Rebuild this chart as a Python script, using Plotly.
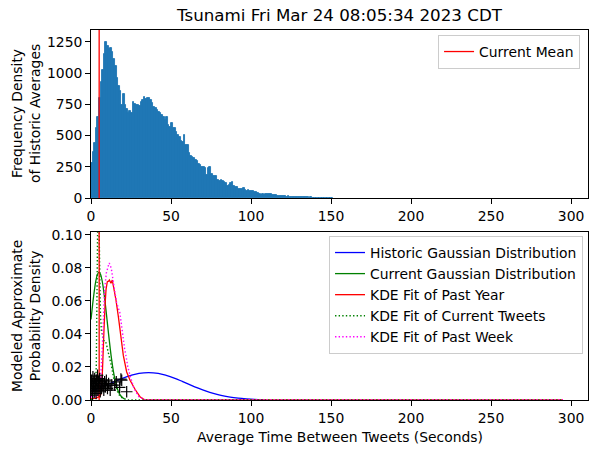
import plotly.graph_objects as go

# ---------------- data ----------------
title_text = "Tsunami Fri Mar 24 08:05:34 2023 CDT"

# histogram of historic averages: bin width 1 s, bins starting at 0
hist_bin_start = 0
hist_bin_width = 1
hist_counts = [280, 372, 440, 560, 650, 800, 930, 1024, 1150, 1245,
               1220, 1190, 1200, 1165, 1110, 1060, 958, 900, 860, 745,
               830, 745, 710, 678, 700, 680, 771, 750, 745, 745,
               735, 770, 785, 811, 795, 800, 800, 785, 760, 731,
               720, 705, 690, 678, 665, 650, 625, 650, 585, 572,
               600, 558, 558, 532, 505, 492, 460, 445, 505, 425,
               425, 360, 335, 332, 318, 305, 295, 275, 266, 250,
               245, 240, 186, 240, 245, 190, 173, 178, 180, 146,
               133, 146, 133, 128, 120, 93, 106, 120, 128, 100,
               88, 85, 72, 72, 70, 80, 62, 59, 62, 53,
               53, 60, 45, 45, 40, 35, 27, 35, 27, 35,
               35, 35, 35, 22, 22, 27, 19, 19, 19, 13,
               13, 13, 11, 13, 10, 10, 8, 8, 8, 8,
               6, 6, 5, 5, 5, 5, 4, 5, 4, 3,
               4, 3, 3, 3, 2, 2, 2, 1, 1, 1, 1]

current_mean = 5.1

hist_gauss_x = [0, 5, 10, 15, 20, 25, 30, 36, 42, 47, 52, 57, 62, 67, 72, 77, 82, 87, 92, 97, 102, 108]
hist_gauss_y = [0.0054, 0.0072, 0.0092, 0.0113, 0.0133, 0.0149, 0.0161, 0.0166, 0.0161, 0.0149, 0.0133,
                0.0113, 0.0092, 0.0072, 0.0054, 0.0039, 0.0026, 0.0017, 0.0011, 0.0007, 0.0004, 0.0002]

cur_gauss_x = [0, 1, 2, 3, 4, 5, 6, 7, 8, 9, 10, 11, 12, 13, 14, 15, 16, 17, 18, 19, 20, 21]
cur_gauss_y = [0.0488, 0.0577, 0.0656, 0.0720, 0.0761, 0.0775, 0.0761, 0.0720, 0.0656, 0.0577, 0.0488,
               0.0398, 0.0313, 0.0237, 0.0173, 0.0122, 0.0083, 0.0054, 0.0034, 0.0021, 0.0012, 0.0007]

kde_year_x = [0, 3, 5, 6, 6.7, 7.4, 8.1, 8.8, 9.4, 10.2, 11.0, 11.5, 12.5, 13.3, 14.4, 15.6,
              17.1, 18.5, 20.2, 22.3, 24.4, 27.5, 30.6, 33.7, 295]
kde_year_y = [0.001, 0.001, 0.002, 0.003, 0.006, 0.020, 0.042, 0.058, 0.067, 0.0717, 0.072, 0.0727,
              0.0707, 0.0727, 0.0677, 0.0606, 0.0505, 0.040, 0.027, 0.017, 0.012, 0.0065, 0.002, 0.0, 0.0]

kde_current_x = [0, 2.5, 3.3, 3.8, 4.2, 4.8, 5.4, 5.9, 6.5, 7.2, 8.0, 8.8, 9.6, 10.5, 11.5, 12.7,
                 14.0, 15.5, 16.9, 18.5, 20, 23, 295]
kde_current_y = [0.0, 0.002, 0.020, 0.070, 0.110, 0.120, 0.080, 0.052, 0.042, 0.038, 0.036, 0.036,
                 0.034, 0.030, 0.026, 0.021, 0.014, 0.008, 0.004, 0.002, 0.001, 0.0, 0.0]

kde_week_x = [0, 3, 5, 6, 7, 8, 8.5, 9.6, 10.5, 11.3, 12, 13, 14, 15, 16, 17, 18, 19, 20, 21, 22,
              23, 24.4, 26.5, 28, 30, 32, 34, 295]
kde_week_y = [0.002, 0.002, 0.004, 0.012, 0.030, 0.055, 0.067, 0.077, 0.081, 0.083, 0.082, 0.078,
              0.071, 0.064, 0.059, 0.056, 0.053, 0.046, 0.038, 0.031, 0.026, 0.020, 0.015, 0.008,
              0.005, 0.002, 0.001, 0.0, 0.0]

tweet_x = [0.3, 0.5, 0.8, 1.0, 1.2, 1.5, 1.8, 2.0, 2.3, 2.6, 2.9, 3.2, 3.5, 3.8, 4.1, 4.4, 4.7,
           5.0, 5.4, 5.8, 6.2, 6.6, 7.0, 7.5, 8.0, 8.5, 9.0, 9.6, 10.3, 11.0, 12.0, 13.0, 14.8,
           15.8, 17.9, 18.7, 19.2, 22.3]
tweet_y = [0.012, 0.006, 0.009, 0.003, 0.014, 0.008, 0.011, 0.005, 0.013, 0.007, 0.010, 0.004,
           0.012, 0.008, 0.015, 0.006, 0.011, 0.009, 0.013, 0.005, 0.010, 0.007, 0.012, 0.009,
           0.006, 0.011, 0.008, 0.012, 0.007, 0.010, 0.006, 0.009, 0.009, 0.011, 0.0077, 0.0127,
           0.012, 0.005]

x_ticks = [0, 50, 100, 150, 200, 250, 300]
top_y_ticks = [0, 250, 500, 750, 1000, 1250]
bot_y_ticks = [0.00, 0.02, 0.04, 0.06, 0.08, 0.10]

# ---------------- figure ----------------
X_RANGE = [0, 310.6]
TOP_Y_RANGE = [0, 1345]
BOT_Y_RANGE = [0, 0.1018]
FS = 13.9

bin_centers = [hist_bin_start + hist_bin_width * (i + 0.5) for i in range(len(hist_counts))]

fig = go.Figure()
fig.add_trace(go.Bar(x=bin_centers, y=hist_counts, width=hist_bin_width,
                     marker=dict(color="#1f77b4", line=dict(width=0.9, color="#1f77b4")),
                     showlegend=False, xaxis="x", yaxis="y", hoverinfo="skip"))
fig.add_trace(go.Scatter(x=[current_mean, current_mean], y=TOP_Y_RANGE, mode="lines",
                         line=dict(color="red", width=1.3), name="Current Mean",
                         xaxis="x", yaxis="y", legend="legend"))

DOT = "1.4px,2.2px"
fig.add_trace(go.Scatter(x=hist_gauss_x, y=hist_gauss_y, mode="lines", line=dict(color="blue", width=1.3, shape="spline"),
                         name="Historic Gaussian Distribution", xaxis="x2", yaxis="y2", legend="legend2"))
fig.add_trace(go.Scatter(x=cur_gauss_x, y=cur_gauss_y, mode="lines", line=dict(color="green", width=1.3, shape="spline"),
                         name="Current Gaussian Distribution", xaxis="x2", yaxis="y2", legend="legend2"))
fig.add_trace(go.Scatter(x=kde_year_x, y=kde_year_y, mode="lines", line=dict(color="red", width=1.3),
                         name="KDE Fit of Past Year", xaxis="x2", yaxis="y2", legend="legend2"))
fig.add_trace(go.Scatter(x=kde_current_x, y=kde_current_y, mode="lines", line=dict(color="green", width=1.4, dash=DOT),
                         name="KDE Fit of Current Tweets", xaxis="x2", yaxis="y2", legend="legend2"))
fig.add_trace(go.Scatter(x=kde_week_x, y=kde_week_y, mode="lines", line=dict(color="magenta", width=1.4, dash=DOT),
                         name="KDE Fit of Past Week", xaxis="x2", yaxis="y2", legend="legend2"))
fig.add_trace(go.Scatter(x=[current_mean, current_mean], y=BOT_Y_RANGE, mode="lines",
                         line=dict(color="red", width=1.3), showlegend=False, xaxis="x2", yaxis="y2"))
fig.add_trace(go.Scatter(x=tweet_x, y=tweet_y, mode="markers",
                         marker=dict(symbol="cross-thin", size=8.3, line=dict(color="black", width=1.2), color="black"),
                         showlegend=False, xaxis="x2", yaxis="y2"))

axis_common = dict(showline=True, linecolor="black", linewidth=1, mirror=True, ticks="outside",
                   ticklen=4.9, tickwidth=1, tickcolor="black", showgrid=False, zeroline=False,
                   tickfont=dict(size=FS, color="black"))

H = 370.0
fig.update_layout(
    width=600, height=453,
    margin=dict(l=91, r=12, t=30, b=53),
    plot_bgcolor="white", paper_bgcolor="white",
    font=dict(family="DejaVu Sans", size=FS, color="black"),
    bargap=0,
    title=dict(text=title_text, x=0.5, xref="paper", xanchor="center",
               y=1 - 15 / 453, yref="container", yanchor="middle",
               font=dict(size=16.7, color="black")),
    xaxis=dict(domain=[0, 1], anchor="y", range=X_RANGE, tickvals=x_ticks, **axis_common),
    yaxis=dict(domain=[1 - 168 / H, 1], anchor="x", range=TOP_Y_RANGE, tickvals=top_y_ticks, **axis_common),
    xaxis2=dict(domain=[0, 1], anchor="y2", range=X_RANGE, tickvals=x_ticks, **axis_common),
    yaxis2=dict(domain=[0, 1 - 202 / H], anchor="x2", range=BOT_Y_RANGE, tickvals=bot_y_ticks,
                tickformat=".2f", **axis_common),
    legend=dict(x=0.984, y=1 - 5 / H, xanchor="right", yanchor="top", bordercolor="#cccccc",
                borderwidth=1, bgcolor="rgba(255,255,255,0.8)", font=dict(size=FS)),
    legend2=dict(x=0.99, y=1 - 206 / H, xanchor="right", yanchor="top", bordercolor="#cccccc",
                 borderwidth=1, bgcolor="rgba(255,255,255,0.8)", font=dict(size=FS), tracegroupgap=0),
    annotations=[
        dict(text="Frequency Density<br>of Historic Averages", xref="paper", yref="paper",
             x=(26 - 91) / 497, y=1 - 84 / H, textangle=-90, showarrow=False,
             xanchor="center", yanchor="middle", font=dict(size=FS)),
        dict(text="Modeled Approximate<br>Probability Density", xref="paper", yref="paper",
             x=(26 - 91) / 497, y=1 - 286 / H, textangle=-90, showarrow=False,
             xanchor="center", yanchor="middle", font=dict(size=FS)),
        dict(text="Average Time Between Tweets (Seconds)", xref="paper", yref="paper",
             x=0.5, y=-37 / H, showarrow=False, xanchor="center", yanchor="middle",
             font=dict(size=FS)),
    ],
)

fig.write_html("out.html")
